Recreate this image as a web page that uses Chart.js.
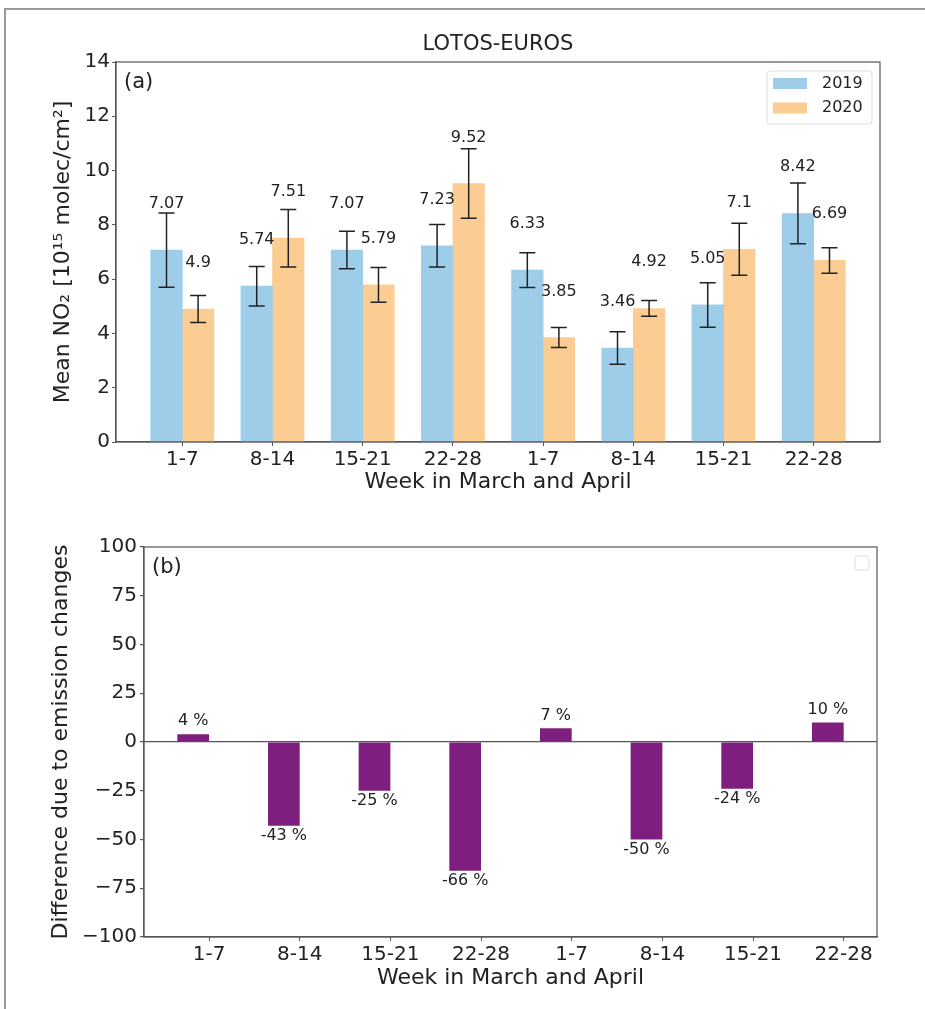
<!DOCTYPE html>
<html>
<head>
<meta charset="utf-8">
<title>LOTOS-EUROS</title>
<script src="https://cdn.jsdelivr.net/npm/chart.js@4.4.1/dist/chart.umd.min.js"></script>
<style>
  html, body { margin: 0; background: #fff; overflow: hidden; }
  #frame { position: absolute; left: 4px; top: 8px; width: 921px; height: 1001px;
           border-top: 2px solid #999; border-left: 2px solid #999; box-sizing: border-box; }
  canvas { position: absolute; left: 0; }
  #chart-a { top: 0; }
  #chart-b { top: 500px; }
</style>
</head>
<body>
<div id="frame"></div>
<canvas id="chart-a" width="925" height="500"></canvas>
<canvas id="chart-b" width="925" height="509"></canvas>
<script>
// week labels (March, then April)
const weeks = ["1-7", "8-14", "15-21", "22-28", "1-7", "8-14", "15-21", "22-28"];

// mean NO2, 10^15 molec/cm2
const no2_2019 = [7.07, 5.74, 7.07, 7.23, 6.33, 3.46, 5.05, 8.42];
const no2_2020 = [4.9, 7.51, 5.79, 9.52, 3.85, 4.92, 7.1, 6.69];
// half length of the error bars
const err_2019 = [1.37, 0.73, 0.69, 0.78, 0.64, 0.60, 0.82, 1.12];
const err_2020 = [0.50, 1.06, 0.64, 1.28, 0.37, 0.29, 0.96, 0.47];

// difference due to emission changes, %
const diffEmission = [4, -43, -25, -66, 7, -50, -24, 10];

const barWidth = 0.35;
const FONT = "'DejaVu Sans', 'Noto Sans', sans-serif";
const INK = "#222";
const AXIS = "#555";

Chart.defaults.font.family = FONT;
Chart.defaults.color = INK;
Chart.defaults.animation = false;

// bars sit left/right of the tick, like matplotlib's x -/+ width/2
function shifted(values, shift) {
    return values.map((v, i) => ({ x: i + shift, y: v }));
}

// error bars, value labels, panel letter, box and legend
const extras = {
    id: "extras",
    afterDatasetsDraw(chart, args, opts) {
        const ctx = chart.ctx;
        const yScale = chart.scales.y;
        const area = chart.chartArea;
        ctx.save();

        chart.data.datasets.forEach((ds, di) => {
            const meta = chart.getDatasetMeta(di);
            meta.data.forEach((bar, i) => {
                const v = ds.data[i].y;
                if (ds.errors) {
                    const top = yScale.getPixelForValue(v + ds.errors[i]);
                    const bot = yScale.getPixelForValue(v - ds.errors[i]);
                    ctx.strokeStyle = INK;
                    ctx.lineWidth = 1.5;
                    ctx.beginPath();
                    ctx.moveTo(bar.x, top); ctx.lineTo(bar.x, bot);
                    ctx.moveTo(bar.x - 8, top); ctx.lineTo(bar.x + 8, top);
                    ctx.moveTo(bar.x - 8, bot); ctx.lineTo(bar.x + 8, bot);
                    ctx.stroke();
                }
                ctx.fillStyle = INK;
                ctx.font = "16px " + FONT;
                ctx.textAlign = "center";
                ctx.textBaseline = "middle";
                let ty;
                if (opts.labelShift) {
                    ty = yScale.getPixelForValue(v + opts.labelShift);
                } else {
                    ty = v >= 0 ? bar.y - 13 : bar.y + 10;
                }
                ctx.fillText(String(v) + (opts.suffix || ""), bar.x, ty);
            });
        });

        // axes box
        ctx.strokeStyle = AXIS;
        ctx.lineWidth = 1.2;
        ctx.strokeRect(area.left, area.top, area.right - area.left, area.bottom - area.top);

        // panel letter
        ctx.fillStyle = INK;
        ctx.font = "21px " + FONT;
        ctx.textAlign = "left";
        ctx.textBaseline = "middle";
        ctx.fillText(opts.panel, area.left + 8, area.top + 21);

        // legend in the upper right corner
        const items = chart.data.datasets.filter(ds => ds.inLegend);
        if (opts.legend) {
            const w = items.length ? 105 : 14;
            const h = items.length ? 53 : 14;
            const bx = area.right - 8 - w;
            const by = area.top + 9;
            ctx.fillStyle = "rgba(255,255,255,0.8)";
            ctx.strokeStyle = "#ddd";
            ctx.lineWidth = 1;
            ctx.beginPath();
            ctx.roundRect(bx, by, w, h, 3);
            ctx.fill();
            ctx.stroke();
            items.forEach((ds, k) => {
                const cy = by + 12.5 + k * 24.5;
                ctx.fillStyle = ds.backgroundColor;
                ctx.fillRect(bx + 6, cy - 5.5, 34, 11);
                ctx.fillStyle = INK;
                ctx.font = "16px " + FONT;
                ctx.fillText(ds.label, bx + 55, cy);
            });
        }
        ctx.restore();
    }
};

function xAxis(ticksRange, titlePadBottom) {
    return {
        type: "linear",
        min: ticksRange[0],
        max: ticksRange[1],
        offset: false,
        afterBuildTicks: (scale) => {
            scale.ticks = weeks.map((w, i) => ({ value: i }));
        },
        ticks: {
            callback: (v) => weeks[v],
            font: { size: 20 },
            padding: 2,
            maxRotation: 0,
            autoSkip: false,
        },
        grid: { drawOnChartArea: false, offset: false, tickLength: 4, tickColor: AXIS },
        border: { color: AXIS, width: 1.2 },
        title: {
            display: true,
            text: "Week in March and April",
            font: { size: 22 },
            padding: { top: 0, bottom: titlePadBottom },
        },
    };
}

function createNO2Chart() {
    const canvas = document.querySelector("#chart-a");
    const x = xAxis([-0.735, 7.735], 5);
    x.afterFit = (scale) => { scale.height = 58; };

    new Chart(canvas.getContext("2d"), {
        type: "bar",
        data: {
            datasets: [
                {
                    label: "2019",
                    data: shifted(no2_2019, -barWidth / 2),
                    errors: err_2019,
                    backgroundColor: "#9dcde8",
                    inLegend: true,
                },
                {
                    label: "2020",
                    data: shifted(no2_2020, barWidth / 2),
                    errors: err_2020,
                    backgroundColor: "#fbcd92",
                    inLegend: true,
                },
            ],
        },
        options: {
            responsive: false,
            datasets: { bar: { grouped: false, barPercentage: 1, categoryPercentage: 1 } },
            layout: { padding: { left: 0, right: 45, top: 0, bottom: 0 } },
            scales: {
                x: x,
                y: {
                    min: 0,
                    max: 14,
                    ticks: { stepSize: 2, font: { size: 20 }, padding: 2 },
                    grid: { drawOnChartArea: false, tickLength: 4, tickColor: AXIS },
                    border: { color: AXIS, width: 1.2 },
                    title: {
                        display: true,
                        text: "Mean NO\u2082 [10\u00b9\u2075 molec/cm\u00b2]",
                        font: { size: 22 },
                        padding: { top: 50, bottom: 0 },
                    },
                    afterFit: (scale) => { scale.width = 116; },
                },
            },
            plugins: {
                legend: { display: false },
                tooltip: { enabled: false },
                title: {
                    display: true,
                    text: "LOTOS-EUROS",
                    fullSize: false,
                    color: INK,
                    font: { size: 21, weight: "normal" },
                    padding: { top: 32, bottom: 4.8 },
                },
                extras: { panel: "(a)", labelShift: 1.7, legend: true },
            },
        },
        plugins: [extras],
    });
}

function createDifferenceChart() {
    const canvas = document.querySelector("#chart-b");
    const x = xAxis([-0.7175, 7.3675], 18);
    x.afterFit = (scale) => { scale.height = 72; };

    new Chart(canvas.getContext("2d"), {
        type: "bar",
        data: {
            datasets: [
                {
                    label: "",
                    data: shifted(diffEmission, -barWidth / 2),
                    backgroundColor: "#7e1e7e",
                    barPercentage: barWidth,
                    categoryPercentage: 1,
                    inLegend: false,
                },
            ],
        },
        options: {
            responsive: false,
            layout: { padding: { left: 0, right: 48, top: 47, bottom: 0 } },
            scales: {
                x: x,
                y: {
                    min: -100,
                    max: 100,
                    ticks: {
                        stepSize: 25,
                        font: { size: 20 },
                        padding: 3,
                        callback: (v) => String(v).replace("-", "\u2212"),
                    },
                    grid: {
                        color: (c) => (c.tick && c.tick.value === 0 ? AXIS : "rgba(0,0,0,0)"),
                        lineWidth: 1.2,
                        tickLength: 4,
                        tickColor: AXIS,
                    },
                    border: { color: AXIS, width: 1.2 },
                    title: {
                        display: true,
                        text: "Difference due to emission changes",
                        font: { size: 22 },
                        padding: { top: 48, bottom: 0 },
                    },
                    afterFit: (scale) => { scale.width = 144; },
                },
            },
            plugins: {
                legend: { display: false },
                tooltip: { enabled: false },
                extras: { panel: "(b)", suffix: " %", legend: true },
            },
        },
        plugins: [extras],
    });
}

createNO2Chart();
createDifferenceChart();
</script>
</body>
</html>
